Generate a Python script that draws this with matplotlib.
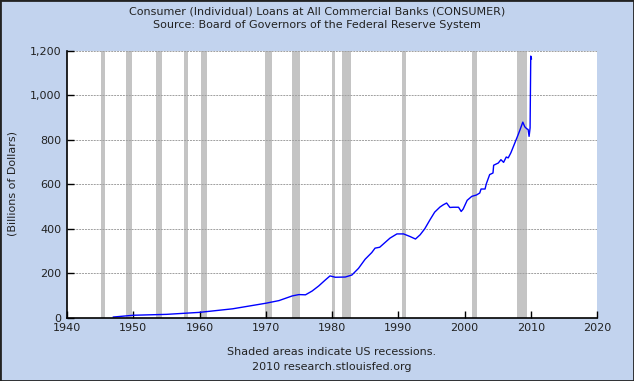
import matplotlib
matplotlib.use("Agg")
import matplotlib.pyplot as plt
from matplotlib.patches import Rectangle

# Data
years = [1947.0, 1950.0, 1955.0, 1960.0, 1965.0, 1970.0, 1972.0, 1974.0, 1975.0, 1976.0,
         1977.0, 1978.0, 1979.0, 1979.7, 1980.5, 1982.0, 1983.0, 1984.0, 1985.0, 1986.0,
         1986.5, 1987.2, 1988.75, 1989.8, 1990.8, 1991.8, 1992.6, 1993.3, 1994.0, 1994.8,
         1995.5, 1996.3, 1996.8, 1997.3, 1997.8, 1998.3, 1999.1, 1999.5, 1999.8, 2000.4,
         2001.1, 2001.8, 2002.3, 2002.5, 2003.1, 2003.3, 2003.8, 2004.3, 2004.4, 2005.1,
         2005.5, 2005.9, 2006.3, 2006.6, 2007.0, 2007.5, 2008.0, 2008.4, 2008.8, 2009.1,
         2009.4, 2009.6, 2009.75, 2009.9, 2010.0, 2010.1]
loans = [3, 11, 15, 24, 40, 65, 77, 98, 104, 103,
         120, 143, 170, 188, 182, 183, 192, 222, 263, 293,
         313, 317, 358, 377, 377, 365, 354, 373, 400, 441,
         475, 498, 508, 516, 496, 497, 497, 478, 489, 528,
         546, 552, 561, 579, 579, 603, 644, 651, 686, 696,
         711, 699, 723, 719, 742, 779, 816, 847, 880, 859,
         850, 847, 816, 854, 1177, 1165]

recessions = [(1945.1, 1945.8), (1948.9, 1949.8), (1953.5, 1954.4), (1957.6, 1958.3),
              (1960.3, 1961.1), (1969.9, 1970.9), (1973.9, 1975.2), (1980.0, 1980.5),
              (1981.5, 1982.9), (1990.5, 1991.2), (2001.2, 2001.9), (2007.9, 2009.5)]

xticks = [1940, 1950, 1960, 1970, 1980, 1990, 2000, 2010, 2020]
yticks = [0, 200, 400, 600, 800, 1000, 1200]
ytick_labels = ["0", "200", "400", "600", "800", "1,000", "1,200"]

title1 = "Consumer (Individual) Loans at All Commercial Banks (CONSUMER)"
title2 = "Source: Board of Governors of the Federal Reserve System"
footer1 = "Shaded areas indicate US recessions."
footer2 = "2010 research.stlouisfed.org"
ylabel = "(Billions of Dollars)"

W, H = 634, 381
fig = plt.figure(figsize=(W / 100, H / 100), dpi=100)
bg = "#C2D3EE"
fig.patch.set_facecolor(bg)
txt = "#222222"
fs = 8

ax = fig.add_axes([67 / W, 1 - 317.7 / H, (597 - 67) / W, (317.7 - 51) / H])
ax.set_facecolor("white")
for a, b in recessions:
    ax.axvspan(a, b, color="#C4C4C4", lw=0, zorder=1)
ax.plot(years, loans, color="#0000FF", lw=1.0, zorder=3)

ax.set_xlim(1940, 2020)
ax.set_ylim(0, 1200)
ax.set_xticks(xticks)
ax.set_xticklabels([str(x) for x in xticks])
ax.set_yticks(yticks)
ax.set_yticklabels(ytick_labels)
ax.tick_params(direction="in", length=5, width=1, color="black", labelsize=fs,
               labelcolor=txt, pad=4)
ax.yaxis.grid(True, color="#A0A0A0", linestyle=(0, (2, 1)), lw=0.7, zorder=2)
ax.set_axisbelow(False)
for s in ["top", "right"]:
    ax.spines[s].set_visible(False)
for s in ["left", "bottom"]:
    ax.spines[s].set_color("black")
    ax.spines[s].set_linewidth(1.2)
    ax.spines[s].set_zorder(4)

fig.text(0.5, 1 - 11 / H, title1, ha="center", va="center", fontsize=fs, color=txt)
fig.text(0.5, 1 - 25 / H, title2, ha="center", va="center", fontsize=fs, color=txt)
fig.text(332 / W, 1 - 352 / H, footer1, ha="center", va="center", fontsize=fs, color=txt)
fig.text(332 / W, 1 - 367 / H, footer2, ha="center", va="center", fontsize=fs, color=txt)
fig.text(13 / W, 1 - 183 / H, ylabel, ha="center", va="center", rotation=90,
         fontsize=fs, color=txt)

fig.add_artist(Rectangle((0, 0), 1, 1, transform=fig.transFigure, fill=False,
                         edgecolor="#222222", lw=2))

fig.savefig("out.png", dpi=100, facecolor=bg)
